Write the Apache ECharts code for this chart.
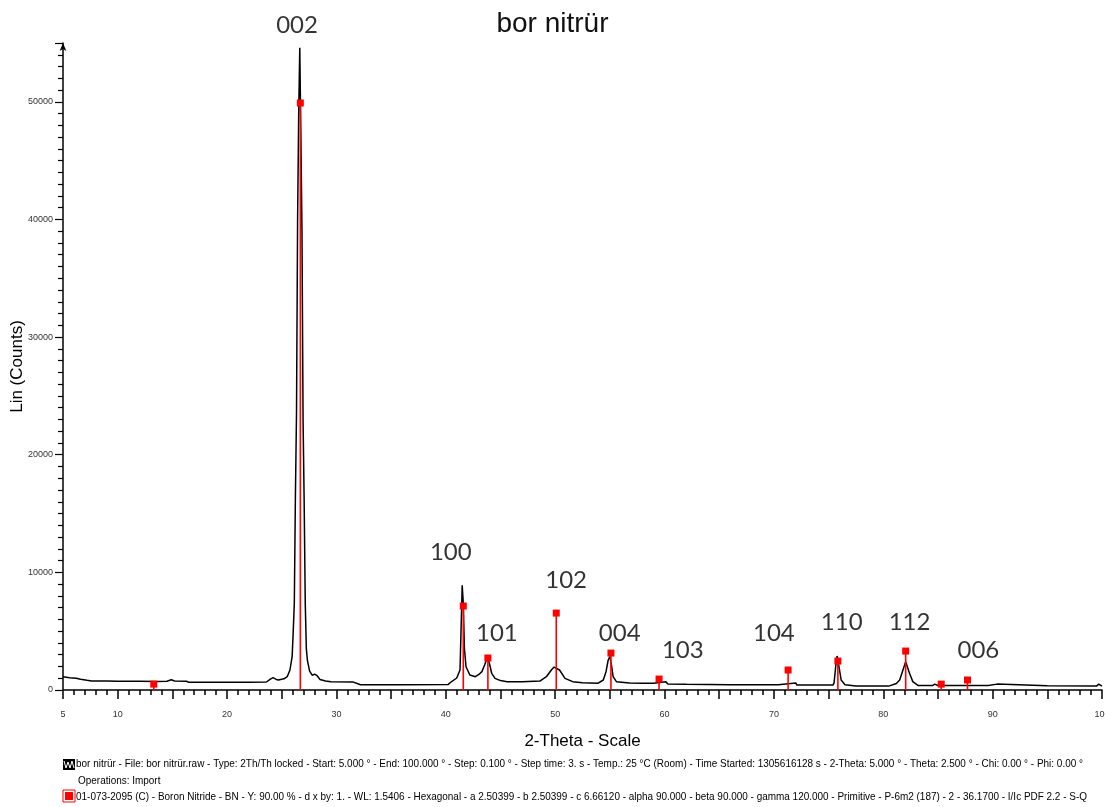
<!DOCTYPE html>
<html>
<head>
<meta charset="utf-8">
<title>bor nitrür</title>
<script src="https://cdn.jsdelivr.net/npm/echarts/dist/echarts.min.js"></script>
<style>
  html, body { margin: 0; padding: 0; background: #fff; }
  #chart { width: 1105px; height: 807px; }
</style>
</head>
<body>
<div id="chart"></div>
<script>
var scanTheta = [5.0, 5.6, 6.2, 6.6, 7.2, 7.6, 9, 10, 12, 13.5, 14.5, 14.6, 14.9, 15.2, 16.3, 16.5, 18, 20, 22, 23.6,
  24.0, 24.2, 24.5, 24.7, 25.2, 25.5, 25.75, 25.95, 26.05, 26.15, 26.25, 26.35, 26.45, 26.55, 26.65, 26.75, 26.85,
  26.95, 27.05, 27.15, 27.25, 27.35, 27.55, 27.8, 28.0, 28.2, 28.5, 29.0, 29.5, 31.5, 32.2, 36, 40.2, 40.5, 41.0,
  41.3, 41.4, 41.5, 41.6, 41.7, 41.85, 42.2, 42.7, 43.0, 43.3, 43.55, 43.8, 43.95, 44.2, 44.5, 45.0, 45.6, 47, 48.6,
  49.2, 49.65, 49.9, 50.05, 50.4, 50.9, 51.6, 52.5, 53.9, 54.4, 54.65, 54.85, 55.0, 55.15, 55.3, 55.6, 56.8, 58.0,
  59.0, 59.1, 60.1, 60.3, 62, 66, 70.4, 70.5, 72.0, 72.1, 75.4, 75.5, 75.65, 75.78, 75.95, 76.15, 76.5, 77.5, 80.5,
  81.2, 81.5, 81.8, 82.05, 82.4, 82.7, 83.2, 84.5, 84.7, 85.0, 87.6, 87.7, 88.2, 89.6, 89.7, 90.4, 90.5, 95, 99.5,
  99.7, 100];
var scanCounts = [1130, 1050, 1000, 910, 820, 770, 760, 750, 740, 730, 740, 880, 870, 760, 740, 650, 650, 660, 660, 680,
  950, 1050, 900, 850, 950, 1130, 1700, 2830, 4960, 7400, 16500, 23500, 40000, 49000, 54600, 47000, 39000,
  23000, 16000, 7400, 3500, 2500, 1600, 1250, 1350, 1250, 900, 760, 700, 690, 450, 440, 460, 700, 1020,
  1700, 5270, 8900, 7400, 3570, 1980, 1270, 1130, 1300, 1560, 2120, 2800, 2400, 1420, 990, 800, 710, 700, 760,
  1130, 1700, 1950, 2050, 1700, 990, 710, 620, 570, 850, 1560, 2550, 2830, 2120, 1130, 710, 600, 570,
  570, 710, 710, 520, 480, 450, 440, 600, 600, 420, 420, 600, 1980, 2890, 1980, 850, 450, 330, 330,
  550, 850, 1700, 2400, 1420, 710, 380, 380, 500, 380, 380, 500, 380, 380, 520, 500, 380, 360, 330,
  500, 330];

// reference card 01-073-2095 (BN) sticks
var pdfTheta = [13.3, 26.7, 41.6, 43.85, 50.1, 55.1, 59.5, 71.3, 75.85, 82.05, 85.3, 87.7];
var pdfCounts = [500, 49900, 7140, 2720, 6540, 3140, 930, 1700, 2460, 3310, 500, 850];

// hkl labels and where they sit
var hklNames = ['002', '100', '101', '102', '004', '103', '104', '110', '112', '006'];
var hklTheta = [26.4, 40.46, 44.67, 51.0, 55.9, 61.67, 70.0, 76.2, 82.4, 88.7];
var hklCounts = [56500, 11730, 4850, 9350, 4850, 3400, 4850, 5780, 5780, 3400];

var legendLine1 = 'bor nitrür - File: bor nitrür.raw - Type: 2Th/Th locked - Start: 5.000 ° - End: 100.000 ° - Step: 0.100 ° - Step time: 3. s - Temp.: 25 °C (Room) - Time Started: 1305616128 s - 2-Theta: 5.000 ° - Theta: 2.500 ° - Chi: 0.00 ° - Phi: 0.00 °';
var legendLine2 = 'Operations: Import';
var legendLine3 = '01-073-2095 (C) - Boron Nitride - BN - Y: 90.00 % - d x by: 1. - WL: 1.5406 - Hexagonal - a 2.50399 - b 2.50399 - c 6.66120 - alpha 90.000 - beta 90.000 - gamma 120.000 - Primitive - P-6m2 (187) - 2 - 36.1700 - I/Ic PDF 2.2 - S-Q';

var chart = echarts.init(document.getElementById('chart'));

var scanData = scanTheta.map(function (t, i) { return [t, scanCounts[i]]; });
var pdfData = pdfTheta.map(function (t, i) { return [t, pdfCounts[i]]; });
var hklData = hklNames.map(function (n, i) { return { name: n, value: [hklTheta[i], hklCounts[i]] }; });

var smallFont = 'Liberation Sans';
var legendScale = 0.905; // squeeze the long info lines like the original narrow font

chart.setOption({
  animation: false,
  backgroundColor: '#fff',
  title: {
    text: 'bor nitrür',
    left: 'center',
    top: 5,
    textStyle: { fontFamily: smallFont, fontSize: 28, fontWeight: 'normal', color: '#111' }
  },
  grid: { left: 63, right: 3, top: 43, bottom: 117, outerBoundsMode: 'none' },
  xAxis: {
    type: 'value',
    min: 5,
    max: 100,
    interval: 5,
    name: '2-Theta - Scale',
    nameLocation: 'middle',
    nameGap: 43,
    nameTextStyle: { fontFamily: smallFont, fontSize: 17, color: '#000' },
    axisLine: { lineStyle: { color: '#000', width: 1.5 } },
    axisTick: { length: 9, lineStyle: { color: '#000', width: 1.5 } },
    minorTick: { show: true, splitNumber: 5, length: 5, lineStyle: { color: '#000', width: 1.5 } },
    axisLabel: {
      margin: 20,
      fontFamily: smallFont,
      fontSize: 9,
      color: '#333',
      formatter: function (v) { return (v === 5 || v % 10 === 0) ? String(v) : ''; }
    },
    splitLine: { show: false }
  },
  yAxis: {
    type: 'value',
    min: 0,
    max: 55000,
    interval: 10000,
    name: 'Lin (Counts)',
    nameLocation: 'middle',
    nameGap: 37,
    nameMoveOverlap: false,
    nameTextStyle: { fontFamily: smallFont, fontSize: 17, color: '#000' },
    axisLine: { show: true, symbol: ['none', 'arrow'], symbolSize: [5, 8], lineStyle: { color: '#000', width: 1.5 } },
    axisTick: { show: true, length: 8, lineStyle: { color: '#000', width: 1.2 } },
    minorTick: { show: true, splitNumber: 10, length: 5, lineStyle: { color: '#000', width: 1.2 } },
    axisLabel: {
      margin: 10,
      fontFamily: smallFont,
      fontSize: 9,
      color: '#333',
      showMaxLabel: false,
      formatter: function (v) { return v % 10000 === 0 ? String(v) : ''; }
    },
    splitLine: { show: false }
  },
  series: [
    {
      name: 'bor nitrür',
      type: 'line',
      data: scanData,
      symbol: 'none',
      lineStyle: { color: '#000', width: 1.5 },
      z: 2
    },
    {
      name: '01-073-2095 (C) - Boron Nitride - BN',
      type: 'custom',
      data: pdfData,
      z: 3,
      renderItem: function (params, api) {
        var base = api.coord([api.value(0), 0]);
        var top = api.coord([api.value(0), api.value(1)]);
        return {
          type: 'group',
          children: [
            {
              type: 'line',
              shape: { x1: base[0], y1: base[1], x2: top[0], y2: top[1] },
              style: { stroke: '#ff0000', lineWidth: 1.6 }
            },
            {
              type: 'rect',
              shape: { x: top[0] - 3.5, y: top[1] - 3.5, width: 7, height: 7 },
              style: { fill: '#ff0000' }
            }
          ]
        };
      }
    },
    {
      name: 'hkl',
      type: 'scatter',
      data: hklData,
      symbolSize: 0,
      clip: false,
      silent: true,
      z: 4,
      label: {
        show: true,
        position: 'inside',
        formatter: '{b}',
        fontFamily: 'Lato',
        fontSize: 24,
        color: '#000'
      }
    }
  ],
  graphic: [
    // scan icon
    { type: 'rect', shape: { x: 63, y: 759, width: 12, height: 11 }, style: { fill: '#000' } },
    { type: 'polyline', shape: { points: [[64, 761], [66, 768], [68, 762], [70, 768], [72, 761], [74, 768]] }, style: { stroke: '#fff', lineWidth: 1, fill: null } },
    { type: 'text', x: 76, y: 764, scaleX: legendScale, style: { text: legendLine1, fontFamily: smallFont, fontSize: 11, fill: '#000', verticalAlign: 'middle' } },
    { type: 'text', x: 78, y: 781, scaleX: legendScale, style: { text: legendLine2, fontFamily: smallFont, fontSize: 11, fill: '#000', verticalAlign: 'middle' } },
    // card icon
    { type: 'rect', shape: { x: 63, y: 790, width: 12, height: 12 }, style: { fill: '#fff', stroke: '#ff0000', lineWidth: 1 } },
    { type: 'rect', shape: { x: 65, y: 792, width: 8, height: 8 }, style: { fill: '#ff0000' } },
    { type: 'text', x: 76, y: 797, scaleX: legendScale, style: { text: legendLine3, fontFamily: smallFont, fontSize: 11, fill: '#000', verticalAlign: 'middle' } }
  ]
});
</script>
</body>
</html>
